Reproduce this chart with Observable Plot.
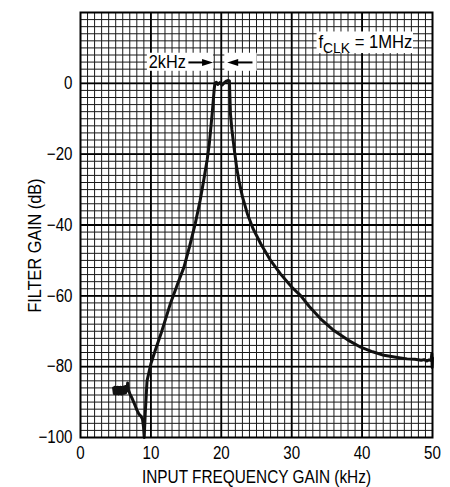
<!DOCTYPE html>
<html><head><meta charset="utf-8">
<script src="https://cdn.jsdelivr.net/npm/d3@7"></script>
<script src="https://cdn.jsdelivr.net/npm/@observablehq/plot@0.6"></script>
<style>
body{margin:0;background:#fff;}
</style>
</head><body><div id="chart"></div>
<script>
// ---- data ----
const freq = [4.7,4.8,4.9,5.0,5.1,5.2,5.3,5.4,5.5,5.6,5.7,5.8,5.9,6.0,6.1,6.2,6.3,6.4,6.5,6.6,6.7,6.8,7.0,7.3,7.6,8.0,8.3,8.6,8.8,8.95,9.05,9.2,9.45,10.0,10.6,11.5,12.8,13.8,14.7,15.5,16.3,17.0,17.5,18.0,18.3,18.7,19.0,19.1,19.3,19.5,19.8,20.1,20.4,20.7,21.0,21.15,21.3,21.5,21.8,22.2,22.5,23.0,23.7,24.5,25.6,27.0,28.4,30.0,31.3,32.5,34.1,36.0,38.0,39.8,41.5,43.1,45.0,46.4,47.5,48.4,48.8,49.2,49.5,49.8,49.9,49.95,50];
const gain = [-86.0,-87.6,-85.8,-87.7,-85.9,-87.6,-85.8,-87.7,-85.9,-87.6,-85.8,-87.7,-85.9,-87.6,-85.8,-87.5,-85.7,-87.4,-85.5,-86.8,-84.6,-86.5,-87.6,-88.8,-90.2,-92.2,-93.4,-94.0,-94.8,-97,-100,-93,-84,-79.2,-75.5,-70.3,-62.0,-56.6,-51.9,-46,-39.6,-33,-27.4,-21.5,-17,-8.6,-1.5,0,0.3,-0.3,0.2,-0.5,0.1,0.6,0.8,0.7,-8.6,-13,-18,-24,-27.4,-32,-36.8,-41,-45.3,-50,-53.8,-57.5,-60,-63,-66.5,-69.8,-72.5,-74.5,-75.8,-76.8,-77.4,-77.8,-77.9,-78.2,-78.0,-78.4,-78.1,-78.3,-76.3,-80.2,-77.5];

const xTicks = [0,10,20,30,40,50];
const yTicks = [-100,-80,-60,-40,-20,0];
const xMajor = [10,20,30,40];
const yMajor = [-80,-60,-40,-20,0];
const xMinor = d3.range(1,50);
const yMinor = d3.range(-98,20,2);

const xLabel = "INPUT FREQUENCY GAIN (kHz)";
const yLabel = "FILTER GAIN (dB)";
const bwLabel = "2kHz";
const clkLabel = "fCLK = 1MHz";

// annotation geometry (data units)
const boxes = [
  {x1:9.5, x2:18.9, y1:3.4, y2:8.5},
  {x1:20.5, x2:25.1, y1:3.4, y2:8.5},
  {x1:33.6, x2:47.3, y1:8.4, y2:14.5}
];
const shafts = [
  {x1:15.4, x2:18.05, y:5.9},
  {x1:21.62, x2:24.5, y:5.9}
];
const heads = [
  {x:18.05, y:5.9, dir:"right"},
  {x:21.62, y:5.9, dir:"left"}
];
const texts = [
  {x:9.7, y:5.9, t:bwLabel},
  {x:33.8, y:11.6, t:clkLabel}
];
// target text widths in the reference (px)
const textWidths = {};
textWidths[xLabel] = 229;
textWidths[yLabel] = 134;
textWidths[bwLabel] = 37;
textWidths[clkLabel] = 94;

const curve = freq.map((f,i)=>({f, g:gain[i]}));

const arrowRight = {draw(ctx,size){const r=Math.sqrt(size/Math.PI);ctx.moveTo(r*1.1,0);ctx.lineTo(-r*1.1,-r*0.7);ctx.lineTo(-r*1.1,r*0.7);ctx.closePath();}};
const arrowLeft = {draw(ctx,size){const r=Math.sqrt(size/Math.PI);ctx.moveTo(-r*1.1,0);ctx.lineTo(r*1.1,-r*0.7);ctx.lineTo(r*1.1,r*0.7);ctx.closePath();}};

const font = '"Liberation Sans Narrow","Arial Narrow","Liberation Sans",Arial,sans-serif';

const plot = Plot.plot({
  width: 450,
  height: 487,
  marginLeft: 80,
  marginRight: 18,
  marginTop: 12,
  marginBottom: 50,
  style: {fontFamily: font, fontSize: "18px", background: "#fff", color: "#000"},
  x: {domain:[0,50], ticks: xTicks, tickSize: 0, tickPadding: 9, label: null, tickFormat: d=>String(d)},
  y: {domain:[-100,20], ticks: yTicks, tickSize: 0, tickPadding: 8, label: null, tickFormat: d=> d<0 ? "\u2212"+Math.abs(d) : String(d)},
  marks: [
    Plot.ruleX(xMinor, {stroke:"#1a1a1a", strokeWidth:1}),
    Plot.ruleY(yMinor, {stroke:"#1a1a1a", strokeWidth:1}),
    Plot.ruleX(xMajor, {stroke:"#000", strokeWidth:1.8}),
    Plot.ruleY(yMajor, {stroke:"#000", strokeWidth:1.8}),
    Plot.rect(boxes, {x1:"x1", x2:"x2", y1:"y1", y2:"y2", fill:"#fff"}),
    Plot.line(curve, {x:"f", y:"g", stroke:"#111", strokeWidth:3, strokeLinejoin:"round", strokeLinecap:"round"}),
    Plot.ruleY(shafts, {x1:"x1", x2:"x2", y:"y", stroke:"#000", strokeWidth:2}),
    Plot.dot(heads.filter(d=>d.dir==="right"), {x:"x", y:"y", r:5, symbol: arrowRight, fill:"#000", stroke:"none"}),
    Plot.dot(heads.filter(d=>d.dir==="left"), {x:"x", y:"y", r:5, symbol: arrowLeft, fill:"#000", stroke:"none"}),
    Plot.text(texts, {x:"x", y:"y", text:"t", textAnchor:"start", fontSize:18, fill:"#000"}),
    Plot.text([xLabel], {x: ()=>25, y: ()=>-111.3, text: d=>d, fontSize:18, fill:"#000"}),
    Plot.text([yLabel], {x: ()=>-6.4, y: ()=>-45.8, text: d=>d, rotate:-90, fontSize:18, fill:"#000"}),
    Plot.frame({stroke:"#000", strokeWidth:2})
  ]
});

document.getElementById("chart").appendChild(plot);

// subscript for fCLK
d3.select(plot).selectAll("text").each(function(){
  if (this.textContent === clkLabel) {
    const t = d3.select(this);
    t.text(null);
    t.append("tspan").text("f");
    t.append("tspan").attr("dy", 5).attr("font-size", 15).text("CLK");
    t.append("tspan").attr("dy", -5).text(" = 1MHz");
  }
});

// condense text to mimic the narrow typeface of the reference
d3.select(plot).selectAll("text").each(function(){
  const s = this.textContent;
  const len = this.getComputedTextLength();
  if (!len) return;
  const target = textWidths[s] != null ? textWidths[s] : len * 0.84;
  this.setAttribute("textLength", target);
  this.setAttribute("lengthAdjust", "spacingAndGlyphs");
});
</script>
</body></html>
